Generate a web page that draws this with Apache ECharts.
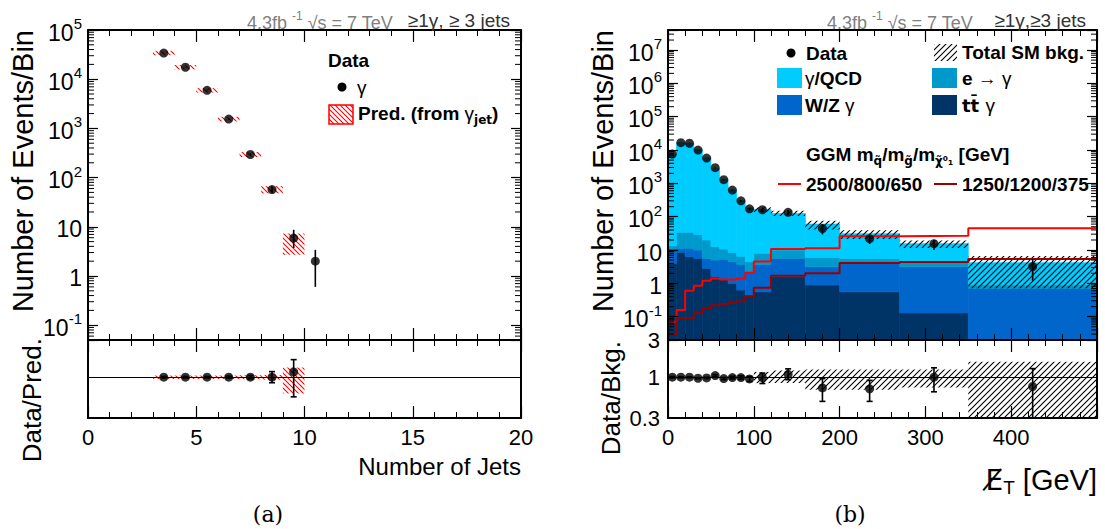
<!DOCTYPE html>
<html>
<head>
<meta charset="utf-8">
<script src="https://cdn.jsdelivr.net/npm/echarts@6/dist/echarts.min.js"></script>
<style>
  html, body { margin: 0; padding: 0; background: #fff; }
  #chart { width: 1105px; height: 529px; }
</style>
</head>
<body>
<div id="chart"></div>
<script>
// ---------- (a) number of jets ----------
var jetBinLo = [3, 4, 5, 6, 7, 8, 9, 10];
var jetData = [34000, 17500, 5950, 1550, 295, 57, 5.9, 2.0];
var jetDataLo = [33600, 17250, 5820, 1510, 280, 50, 3.7, 0.6];
var jetDataHi = [34400, 17750, 6080, 1590, 312, 65, 8.7, 3.4];
// prediction from gamma_jet (bins 3..9)
var predLo = [30700, 15800, 5350, 1390, 262, 48, 2.7];
var predHi = [37700, 19400, 6600, 1720, 333, 67, 7.3];
// data / prediction
var ratioA = [1.0, 1.0, 1.0, 1.0, 1.0, 1.0, 1.17];
var ratioALo = [0.98, 0.98, 0.98, 0.97, 0.95, 0.85, 0.56];
var ratioAHi = [1.02, 1.02, 1.02, 1.03, 1.05, 1.18, 1.68];
var predRelLo = [0.95, 0.95, 0.95, 0.95, 0.94, 0.93, 0.62];
var predRelHi = [1.05, 1.05, 1.05, 1.05, 1.06, 1.07, 1.33];

// ---------- (b) missing ET ----------
var metEdges = [0, 10, 20, 30, 40, 50, 60, 70, 80, 90, 100, 120, 160, 200, 270, 350, 500];
var metData = [7600, 16600, 16000, 10000, 5750, 2950, 1290, 630, 300, 173, 162, 135, 44, 22, 15.5, 3.2];
var metDataLo = [7510, 16470, 15870, 9900, 5680, 2895, 1255, 605, 283, 160, 136, 116, 29.5, 15.2, 10, 1.2];
var metDataHi = [7690, 16730, 16130, 10100, 5820, 3005, 1325, 655, 317, 186, 188, 159, 58, 28.5, 20.5, 5.4];
var bkgQCD = [7587, 16566, 15966, 10270, 5850, 2797, 1329, 627, 296, 178, 156, 114, 54, 25.4, 11, 3.3];
var bkgEle = [2.5, 22.8, 22.8, 19.5, 14.4, 7.6, 5.4, 4.0, 2.8, 2.25, 4.3, 4.4, 2.85, 1.6, 1.3, 0.19];
var bkgWZ = [7, 2.7, 4.9, 4.4, 2.8, 3.4, 3.9, 3.5, 3.07, 1.75, 3.14, 4.02, 2.26, 3.44, 3.02, 0.69];
var bkgTT = [4, 8.5, 6.3, 5.6, 2.8, 1.6, 1.4, 1.0, 0.63, 0.45, 0.56, 1.58, 0.89, 0.56, 0.13, 0.01];
var bkgRelLo = [1, 1, 1, 1, 1, 1, 1, 1, 1, 0.98, 0.84, 0.84, 0.69, 0.69, 0.74, 0.17];
var bkgRelHi = [1, 1, 1, 1, 1, 1, 1, 1, 1, 1.02, 1.17, 1.22, 1.26, 1.26, 1.26, 1.58];
var sigA = [0.07, 0.16, 0.6, 0.85, 1.2, 1.4, 1.3, 1.3, 1.4, 2.1, 4.5, 10.7, 11.3, 26, 27, 45];       // 2500/800/650
var sigB = [0.03, 0.09, 0.09, 0.13, 0.18, 0.22, 0.24, 0.26, 0.29, 0.4, 0.74, 1.69, 2.0, 4.1, 4.4, 5.4]; // 1250/1200/375
var ratioB = [1.0, 1.0, 1.0, 0.97, 0.98, 1.05, 0.96, 0.99, 0.99, 0.95, 0.99, 1.09, 0.73, 0.71, 1.0, 0.76];
var ratioBLo = [0.98, 0.985, 0.985, 0.955, 0.96, 1.02, 0.93, 0.95, 0.94, 0.88, 0.83, 0.93, 0.49, 0.49, 0.65, 0.29];
var ratioBHi = [1.02, 1.015, 1.015, 0.985, 1.0, 1.08, 0.99, 1.03, 1.04, 1.02, 1.13, 1.28, 0.96, 0.91, 1.32, 1.29];

// tick labels
var jetTicks = [0, 5, 10, 15, 20];
var metTicks = [0, 100, 200, 300, 400];
var yTicksA = [0.1, 1, 10, 100, 1000, 10000, 100000];
var yTicksB = [0.1, 1, 10, 100, 1000, 10000, 100000, 1000000, 10000000];
var ratioTicks = [0.3, 1, 3];

var FONT = "'Liberation Sans', Arial, Helvetica, sans-serif";
var SERIF = "'DejaVu Serif', 'Liberation Serif', serif";
var DJ = "'DejaVu Sans', sans-serif";
var C_QCD = '#00ccff', C_ELE = '#0099cc', C_WZ = '#0066cc', C_TT = '#003366';
var C_SIGA = '#ff0000', C_SIGB = '#990000';

var chart = echarts.init(document.getElementById('chart'), null, { renderer: 'svg' });

function hatch(color, size, rising, lw) {
  var c = document.createElement('canvas');
  c.width = size; c.height = size;
  var g = c.getContext('2d');
  g.strokeStyle = color; g.lineWidth = lw;
  g.beginPath();
  if (rising) {
    g.moveTo(0, size); g.lineTo(size, 0);
    g.moveTo(-2, 2); g.lineTo(2, -2);
    g.moveTo(size - 2, size + 2); g.lineTo(size + 2, size - 2);
  } else {
    g.moveTo(0, 0); g.lineTo(size, size);
    g.moveTo(-2, size - 2); g.lineTo(2, size + 2);
    g.moveTo(size - 2, -2); g.lineTo(size + 2, 2);
  }
  g.stroke();
  return { image: c, repeat: 'repeat', imageWidth: size, imageHeight: size };
}
var HATCH_K = hatch('#000', 6, true, 1.1);
var HATCH_R = hatch('#ff0000', 5, false, 1.1);

function isTick(list, v) {
  for (var i = 0; i < list.length; i++) {
    if (Math.abs(v - list[i]) <= 1e-6 * Math.max(1, Math.abs(list[i]))) return true;
  }
  return false;
}
function powLabel(list) {
  return function (v) {
    if (!isTick(list, v)) return '';
    var e = Math.round(Math.log10(v));
    if (e === 0) return '{b|1}';
    if (e === 1) return '{b|10}';
    return '{b|10}{s|' + e + '}';
  };
}
var powRich = {
  b: { fontSize: 23, fontFamily: FONT, color: '#000', lineHeight: 28, verticalAlign: 'bottom' },
  s: { fontSize: 15, fontFamily: FONT, color: '#000', lineHeight: 12, verticalAlign: 'top' }
};

function xAx(grid, pos, max, interval, ticks, showLabel) {
  return {
    type: 'value', gridIndex: grid, position: pos, min: 0, max: max, interval: interval, z: 10,
    axisLine: { show: true, onZero: false, lineStyle: { color: '#000', width: 2 } },
    axisTick: { show: true, inside: true, length: 12, lineStyle: { color: '#000', width: 1.2 } },
    minorTick: { show: true, splitNumber: 5, length: 6, lineStyle: { color: '#000', width: 1 } },
    splitLine: { show: false },
    axisLabel: {
      show: showLabel, margin: 8, fontSize: 22, color: '#000', fontFamily: FONT,
      formatter: function (v) { return isTick(ticks, v) ? String(v) : ''; }
    }
  };
}
function yLog(grid, pos, min, max, labelOpt, tickLen) {
  return {
    type: 'log', logBase: 10, gridIndex: grid, position: pos, min: min, max: max, z: 10,
    axisLine: { show: true, onZero: false, lineStyle: { color: '#000', width: 2 } },
    axisTick: { show: tickLen > 0, inside: true, length: tickLen, lineStyle: { color: '#000', width: 1.2 } },
    minorTick: { show: false },
    splitLine: { show: false },
    axisLabel: labelOpt || { show: false }
  };
}

function rectSeries(xi, yi, data, fill, z, solid) {
  return {
    type: 'custom', xAxisIndex: xi, yAxisIndex: yi, z: z, silent: true,
    encode: { x: [0, 1], y: [2, 3] }, data: data,
    renderItem: function (params, api) {
      var cs = params.coordSys;
      var p = api.coord([api.value(0), api.value(3)]);
      var q = api.coord([api.value(1), api.value(2)]);
      var top = Math.max(p[1], cs.y), bot = Math.min(q[1], cs.y + cs.height);
      if (!(bot > top + 0.01)) return null;
      return { type: 'rect', shape: { x: p[0], y: top, width: q[0] - p[0], height: bot - top },
        style: { fill: fill, stroke: solid ? fill : 'none', lineWidth: solid ? 0.7 : 0 } };
    }
  };
}
function errSeries(xi, yi, data, cap, z) {
  return {
    type: 'custom', xAxisIndex: xi, yAxisIndex: yi, z: z, silent: true,
    encode: { x: 0, y: [1, 2] }, data: data,
    renderItem: function (params, api) {
      var cs = params.coordSys;
      var p = api.coord([api.value(0), api.value(2)]);
      var q = api.coord([api.value(0), api.value(1)]);
      var top = Math.max(p[1], cs.y), bot = Math.min(q[1], cs.y + cs.height);
      var st = { stroke: '#000', lineWidth: 1.6 };
      var kids = [{ type: 'line', shape: { x1: p[0], y1: top, x2: p[0], y2: bot }, style: st }];
      if (cap) {
        if (p[1] >= cs.y) kids.push({ type: 'line', shape: { x1: p[0] - cap, y1: p[1], x2: p[0] + cap, y2: p[1] }, style: st });
        if (q[1] <= cs.y + cs.height) kids.push({ type: 'line', shape: { x1: q[0] - cap, y1: q[1], x2: q[0] + cap, y2: q[1] }, style: st });
      }
      return { type: 'group', children: kids };
    }
  };
}
function dotSeries(xi, yi, data, markOne) {
  var s = {
    type: 'scatter', xAxisIndex: xi, yAxisIndex: yi, z: 6, silent: true,
    symbol: 'circle', symbolSize: 9, itemStyle: { color: '#000' }, data: data
  };
  if (markOne) {
    s.markLine = { silent: true, symbol: 'none', label: { show: false },
      lineStyle: { color: '#000', width: 1.2, type: 'solid' }, data: [{ yAxis: 1 }] };
  }
  return s;
}
function minorTickSeries(xi, yi, lo, hi) {
  var vals = [];
  for (var e = -3; e <= 8; e++) {
    for (var m = 2; m <= 9; m++) {
      var v = m * Math.pow(10, e);
      if (v > lo && v < hi) vals.push([0, v]);
    }
  }
  return {
    type: 'custom', xAxisIndex: xi, yAxisIndex: yi, z: 7, silent: true,
    encode: { x: 0, y: 1 }, data: vals,
    renderItem: function (params, api) {
      var cs = params.coordSys;
      var y = api.coord([0, api.value(1)])[1];
      var st = { stroke: '#000', lineWidth: 1 };
      return { type: 'group', children: [
        { type: 'line', shape: { x1: cs.x, y1: y, x2: cs.x + 6, y2: y }, style: st },
        { type: 'line', shape: { x1: cs.x + cs.width, y1: y, x2: cs.x + cs.width - 6, y2: y }, style: st }
      ] };
    }
  };
}
function stepSeries(vals, color) {
  var d = vals.map(function (v, i) { return [metEdges[i], v]; });
  d.push([metEdges[metEdges.length - 1], vals[vals.length - 1]]);
  return {
    type: 'line', xAxisIndex: 4, yAxisIndex: 4, z: 4, step: 'end', symbol: 'none', silent: true,
    lineStyle: { color: color, width: 2 }, data: d
  };
}

// build tables for (a)
var jetPts = [], jetErr = [], predBox = [], ratioAPts = [], ratioAErr = [], predBand = [];
jetBinLo.forEach(function (lo, i) {
  jetPts.push([lo + 0.5, jetData[i]]);
  jetErr.push([lo + 0.5, jetDataLo[i], jetDataHi[i]]);
  if (i < predLo.length) {
    predBox.push([lo, lo + 1, predLo[i], predHi[i]]);
    ratioAPts.push([lo + 0.5, ratioA[i]]);
    ratioAErr.push([lo + 0.5, ratioALo[i], ratioAHi[i]]);
    predBand.push([lo, lo + 1, predRelLo[i], predRelHi[i]]);
  }
});

// build tables for (b): stacked histogram
var layTT = [], layWZ = [], layEle = [], layQCD = [], bkgBand = [], metPts = [], metErr = [];
var ratioBPts = [], ratioBErr = [], ratioBand = [];
metData.forEach(function (v, i) {
  var lo = metEdges[i], hi = metEdges[i + 1], c = (lo + hi) / 2;
  var s1 = bkgTT[i], s2 = s1 + bkgWZ[i], s3 = s2 + bkgEle[i], s4 = s3 + bkgQCD[i];
  layTT.push([lo, hi, 1e-6, s1]);
  layWZ.push([lo, hi, s1, s2]);
  layEle.push([lo, hi, s2, s3]);
  layQCD.push([lo, hi, s3, s4]);
  bkgBand.push([lo, hi, s4 * bkgRelLo[i], s4 * bkgRelHi[i]]);
  metPts.push([c, v]);
  metErr.push([c, metDataLo[i], metDataHi[i]]);
  ratioBPts.push([c, ratioB[i]]);
  ratioBErr.push([c, ratioBLo[i], ratioBHi[i]]);
  ratioBand.push([lo, hi, bkgRelLo[i], bkgRelHi[i]]);
});

function txt(x, y, text, o) {
  o = o || {};
  return {
    type: 'text', x: x, y: y, rotation: o.rot || 0, z: 100, silent: true,
    style: {
      text: text, fill: o.color || '#000', fontSize: o.size || 19, fontWeight: o.weight || 'bold',
      fontFamily: o.family || FONT, textAlign: o.align || 'left', textVerticalAlign: 'middle',
      rich: o.rich
    }
  };
}
function box(x, y, w, h, fill, stroke) {
  return { type: 'rect', z: 100, silent: true, shape: { x: x, y: y, width: w, height: h },
    style: { fill: fill, stroke: stroke || 'none', lineWidth: stroke ? 1.5 : 0 } };
}
function seg(x1, x2, y, color) {
  return { type: 'line', z: 100, silent: true, shape: { x1: x1, y1: y, x2: x2, y2: y },
    style: { stroke: color, lineWidth: 2 } };
}
var headRich = {
  g: { fontSize: 18, fontFamily: FONT, fill: '#808080', lineHeight: 22, verticalAlign: 'bottom' },
  s: { fontSize: 12, fontFamily: FONT, fill: '#808080', lineHeight: 10, verticalAlign: 'top' }
};
var legRich = {
  b: { fontSize: 19, fontFamily: FONT, fontWeight: 'bold', fill: '#000', lineHeight: 26 },
  g: { fontSize: 19, fontFamily: FONT, fontWeight: 'normal', fill: '#000', lineHeight: 26 },
  d: { fontSize: 18, fontFamily: DJ, fontWeight: 'bold', fill: '#000', lineHeight: 26 },
  s: { fontSize: 12, fontFamily: DJ, fontWeight: 'bold', fill: '#000', lineHeight: 12, verticalAlign: 'bottom' }
};

var graphics = [
  txt(247, 21, '{g|4.3fb }{s|-1}{g| √s = 7 TeV}', { rich: headRich, weight: 'normal' }),
  txt(510, 20, '≥1γ, ≥ 3 jets', { size: 19, color: '#333', align: 'right', weight: 'normal' }),
  txt(827, 21, '{g|4.3fb }{s|-1}{g| √s = 7 TeV}', { rich: headRich, weight: 'normal' }),
  txt(1086, 20, '≥1γ,≥3 jets', { size: 19, color: '#333', align: 'right', weight: 'normal' }),

  txt(23, 30, 'Number of Events/Bin', { size: 29, rot: Math.PI / 2, align: 'right', weight: 'normal' }),
  txt(32, 338, 'Data/Pred.', { size: 26, rot: Math.PI / 2, align: 'right', weight: 'normal' }),
  txt(521, 466, 'Number of Jets', { size: 24, align: 'right', weight: 'normal' }),
  txt(268, 514, '(a)', { size: 22, family: SERIF, align: 'center', weight: 'normal' }),

  txt(603, 30, 'Number of Events/Bin', { size: 29, rot: Math.PI / 2, align: 'right', weight: 'normal' }),
  txt(611, 341, 'Data/Bkg.', { size: 26, rot: Math.PI / 2, align: 'right', weight: 'normal' }),
  txt(1097, 480, '{b|E̸}{t|T}{c| [GeV]}', { align: 'right', weight: 'normal', rich: {
    b: { fontSize: 28, fontFamily: DJ, fill: '#000', lineHeight: 34 },
    t: { fontSize: 19, fontFamily: FONT, fill: '#000', lineHeight: 18, verticalAlign: 'bottom' },
    c: { fontSize: 29, fontFamily: FONT, fill: '#000', lineHeight: 34 }
  } }),
  txt(850, 514, '(b)', { size: 22, family: SERIF, align: 'center', weight: 'normal' }),

  // legend (a)
  txt(328, 60, 'Data'),
  { type: 'circle', z: 100, silent: true, shape: { cx: 342, cy: 87, r: 4.5 }, style: { fill: '#000' } },
  txt(357, 87, 'γ', { weight: 'normal' }),
  box(329, 105, 24, 19, HATCH_R, '#ff0000'),
  txt(358, 113, '{b|Pred. (from }{g|γ}{s|jet}{b|)}', { rich: legRich }),

  // legend (b)
  { type: 'circle', z: 100, silent: true, shape: { cx: 791, cy: 53, r: 4.5 }, style: { fill: '#000' } },
  txt(806, 53, 'Data'),
  box(934, 44, 23, 17, HATCH_K),
  txt(962, 52, 'Total SM bkg.'),
  box(777, 68, 25, 20, C_QCD),
  txt(805, 78, '{g|γ}{b|/QCD}', { rich: legRich }),
  box(932, 68, 25, 20, C_ELE),
  txt(962, 78, '{b|e }{g|→ γ}', { rich: legRich }),
  box(777, 95, 25, 20, C_WZ),
  txt(805, 105, '{b|W/Z }{g|γ}', { rich: legRich }),
  box(932, 95, 25, 20, C_TT),
  txt(962, 105, '{d|tt̄ }{g|γ}', { rich: legRich }),
  txt(806, 154, '{b|GGM m}{s|q̃}{b|/m}{s|g̃}{b|/m}{s|χ̃⁰₁}{b| [GeV]}', { rich: legRich }),
  seg(778, 801, 184, C_SIGA),
  txt(806, 184, '2500/800/650'),
  seg(934, 957, 184, C_SIGB),
  txt(962, 184, '1250/1200/375')
];

var option = {
  animation: false,
  backgroundColor: '#fff',
  textStyle: { fontFamily: FONT },
  grid: [
    { left: 88, top: 30, width: 433, height: 310, containLabel: false, outerBoundsMode: 'none' },
    { left: 88, top: 340, width: 433, height: 78, containLabel: false, outerBoundsMode: 'none' },
    { left: 668, top: 30, width: 429, height: 310, containLabel: false, outerBoundsMode: 'none' },
    { left: 668, top: 340, width: 429, height: 78, containLabel: false, outerBoundsMode: 'none' }
  ],
  xAxis: [
    xAx(0, 'bottom', 20, 5, jetTicks, false),
    xAx(0, 'top', 20, 5, jetTicks, false),
    xAx(1, 'bottom', 20, 5, jetTicks, true),
    xAx(1, 'top', 20, 5, jetTicks, false),
    xAx(2, 'bottom', 500, 100, metTicks, false),
    xAx(2, 'top', 500, 100, metTicks, false),
    xAx(3, 'bottom', 500, 100, metTicks, true),
    xAx(3, 'top', 500, 100, metTicks, false)
  ],
  yAxis: [
    yLog(0, 'left', 0.05, 100000, { show: true, margin: 6, formatter: powLabel(yTicksA), rich: powRich }, 10),
    yLog(0, 'right', 0.05, 100000, null, 10),
    yLog(1, 'left', 0.3, 3, null, 0),
    yLog(1, 'right', 0.3, 3, null, 0),
    yLog(2, 'left', 0.02, 4e7, { show: true, margin: 6, formatter: powLabel(yTicksB), rich: powRich }, 10),
    yLog(2, 'right', 0.02, 4e7, null, 10),
    yLog(3, 'left', 0.3, 3, { show: true, margin: 8, fontSize: 22, color: '#000', fontFamily: FONT,
      formatter: function (v) {
        for (var i = 0; i < ratioTicks.length; i++) if (Math.abs(v - ratioTicks[i]) < 1e-6) return String(ratioTicks[i]);
        return '';
      } }, 0),
    yLog(3, 'right', 0.3, 3, null, 0)
  ],
  series: [
    // (a) top
    rectSeries(0, 0, predBox, HATCH_R, 2, false),
    errSeries(0, 0, jetErr, 0, 5),
    dotSeries(0, 0, jetPts, false),
    minorTickSeries(0, 0, 0.05, 100000),
    // (a) ratio
    { type: 'line', xAxisIndex: 2, yAxisIndex: 2, z: 1, symbol: 'none', silent: true,
      lineStyle: { color: '#ff0000', width: 2, type: [2, 3] }, data: [[0, 0.3], [20, 0.3]] },
    rectSeries(2, 2, predBand, HATCH_R, 2, false),
    errSeries(2, 2, ratioAErr, 3, 5),
    dotSeries(2, 2, ratioAPts, true),
    // (b) top
    rectSeries(4, 4, layTT, C_TT, 1, true),
    rectSeries(4, 4, layWZ, C_WZ, 1, true),
    rectSeries(4, 4, layEle, C_ELE, 1, true),
    rectSeries(4, 4, layQCD, C_QCD, 1, true),
    rectSeries(4, 4, bkgBand, HATCH_K, 2, false),
    stepSeries(sigA, C_SIGA),
    stepSeries(sigB, C_SIGB),
    errSeries(4, 4, metErr, 0, 5),
    dotSeries(4, 4, metPts, false),
    minorTickSeries(4, 4, 0.02, 4e7),
    // (b) ratio
    rectSeries(6, 6, ratioBand, HATCH_K, 2, false),
    errSeries(6, 6, ratioBErr, 3, 5),
    dotSeries(6, 6, ratioBPts, true)
  ],
  graphic: { elements: graphics }
};
chart.setOption(option);
</script>
</body>
</html>
